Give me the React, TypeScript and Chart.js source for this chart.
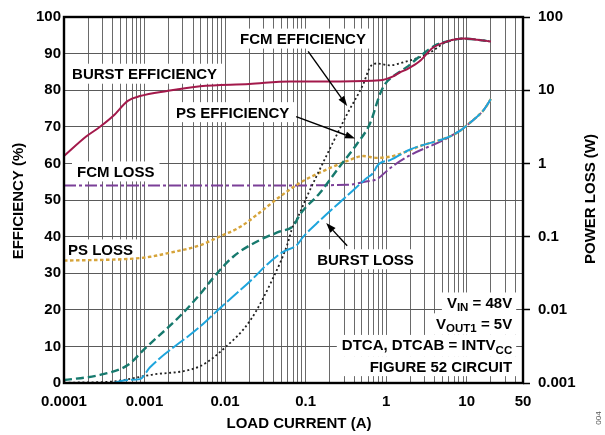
import React, { useEffect, useRef } from 'react';
import { Chart, registerables } from 'chart.js';

Chart.register(...registerables);

const FONT = '"Liberation Sans", Arial, Helvetica, sans-serif';

// ---- Axes ----
const xLabelValues = [0.0001, 0.001, 0.01, 0.1, 1, 10, 50];
const xLabelTexts = ['0.0001', '0.001', '0.01', '0.1', '1', '10', '50'];
const xDecades = [0.0001, 0.001, 0.01, 0.1, 1, 10];
const xMultipliers = [1, 2, 3, 4, 5, 6, 7, 8, 9];
const xMin = 0.0001;
const xMax = 50;

const effTickValues = [0, 10, 20, 30, 40, 50, 60, 70, 80, 90, 100];
const effTickLabels = ['0', '10', '20', '30', '40', '50', '60', '70', '80', '90', '100'];

const lossTickValues = [0.001, 0.01, 0.1, 1, 10, 100];
const lossTickLabels = ['0.001', '0.01', '0.1', '1', '10', '100'];

// ---- Series (load current in A) ----
// Burst efficiency (%)
const burstEffX = [0.0001, 0.00019, 0.00028, 0.00041, 0.00062, 0.00088, 0.0019, 0.0049, 0.02, 0.064, 0.27, 0.84, 1.22, 1.49, 1.8, 2.6, 3.8, 5.7, 9, 13.5, 20];
const burstEffY = [62, 67.4, 70, 73, 77.1, 78.4, 79.8, 81.1, 81.7, 82.4, 82.4, 82.7, 83.8, 84.9, 85.7, 87.9, 91.6, 93.3, 94.1, 93.8, 93.3];

// FCM efficiency (%)
const fcmEffX = [0.0001, 0.00037, 0.00117, 0.0049, 0.01, 0.0204, 0.0395, 0.059, 0.07, 0.078, 0.104, 0.14, 0.2, 0.33, 0.52, 0.63, 0.77, 1.1, 1.8, 2.6, 3.5, 5.7, 9, 13.5, 20];
const fcmEffY = [0.1, 0.35, 2.2, 4.6, 9.7, 17, 28.7, 37.7, 43.1, 44.8, 51, 57, 64, 73.6, 81.7, 86.3, 87.3, 86.8, 87.9, 89, 90.3, 93.3, 94.1, 93.8, 93.3];

// PS efficiency (%)
const psEffX = [0.0001, 0.00028, 0.00062, 0.00101, 0.00276, 0.0049, 0.0071, 0.0126, 0.0272, 0.048, 0.07, 0.0855, 0.151, 0.268, 0.44, 0.63, 0.84, 0.97, 1.22, 1.8, 2.6, 4.3, 5.7, 9, 13.5, 20];
const psEffY = [0.8, 2.2, 4.9, 9.4, 18.3, 24.3, 28.7, 34.5, 39.1, 41.4, 42.9, 46.1, 52, 59.3, 65.5, 70.9, 79, 81.7, 83.8, 86.3, 89.2, 92.5, 93.3, 94.1, 93.8, 93.3];

// PS loss (W)
const psLossX = [0.0001, 0.00072, 0.00117, 0.0019, 0.0049, 0.0087, 0.0153, 0.0272, 0.048, 0.0855, 0.124, 0.33, 0.52, 0.77, 1.22, 1.99, 2.6, 6.2, 8.3, 10, 12, 16, 20];
const psLossY = [0.047, 0.05, 0.053, 0.059, 0.0764, 0.101, 0.135, 0.215, 0.352, 0.545, 0.677, 1.08, 1.26, 1.19, 1.26, 1.52, 1.71, 2.34, 2.8, 3.3, 3.9, 5.25, 7.6];

// FCM loss (W)
const fcmLossX = [0.0001, 0.05, 0.33, 0.58, 0.77, 1.1, 2.0, 5.1, 6.5, 8.3, 10, 12, 16, 20];
const fcmLossY = [0.5, 0.5, 0.51, 0.57, 0.61, 0.85, 1.3, 2.07, 2.4, 2.8, 3.3, 3.9, 5.25, 7.6];

// Burst loss (W)
const burstLossX = [0.00041, 0.00062, 0.00088, 0.00117, 0.0049, 0.0087, 0.0216, 0.033, 0.0525, 0.078, 0.093, 0.151, 0.33, 0.58, 0.69, 0.77, 0.84, 1.12, 1.99, 6.2, 8.3, 10, 12, 16, 20];
const burstLossY = [0.001, 0.0011, 0.00113, 0.00164, 0.0059, 0.0106, 0.026, 0.0414, 0.0619, 0.077, 0.099, 0.167, 0.364, 0.636, 0.74, 0.92, 1.01, 1.11, 1.55, 2.34, 2.8, 3.3, 3.9, 5.25, 7.6];

const xGridValues: number[] = [];
xDecades.forEach((d) => xMultipliers.forEach((m) => { const v = d * m; if (v <= xMax * 1.0001) xGridValues.push(v); }));

function pts(xs: number[], ys: number[]) {
  return xs.map((x, i) => ({ x, y: ys[i] }));
}

function ds(label: string, xs: number[], ys: number[], axis: string, color: string, dash: number[], width: number) {
  return {
    label,
    data: pts(xs, ys),
    yAxisID: axis,
    borderColor: color,
    backgroundColor: color,
    borderDash: dash,
    borderWidth: width,
    borderCapStyle: 'butt',
    pointRadius: 0,
    fill: false,
    cubicInterpolationMode: 'monotone',
  } as any;
}

function arrow(ctx: CanvasRenderingContext2D, x1: number, y1: number, x2: number, y2: number) {
  const ang = Math.atan2(y2 - y1, x2 - x1);
  const L = 10, W = 3.5;
  const bx = x2 - L * Math.cos(ang), by = y2 - L * Math.sin(ang);
  ctx.beginPath();
  ctx.moveTo(x1, y1);
  ctx.lineTo(bx, by);
  ctx.stroke();
  ctx.beginPath();
  ctx.moveTo(x2, y2);
  ctx.lineTo(bx + W * Math.sin(ang), by - W * Math.cos(ang));
  ctx.lineTo(bx - W * Math.sin(ang), by + W * Math.cos(ang));
  ctx.closePath();
  ctx.fill();
}

const MAIN = `bold 15px ${FONT}`;
const SUB = `bold 11.5px ${FONT}`;

const annotationPlugin = {
  id: 'annotations',
  beforeDatasetsDraw(chart: any) {
    const ctx: CanvasRenderingContext2D = chart.ctx;
    const X = (v: number) => chart.scales.x.getPixelForValue(v);
    const Y = (v: number) => chart.scales.y.getPixelForValue(v);
    ctx.save();
    ctx.font = MAIN;
    ctx.textBaseline = 'alphabetic';
    // left-anchored labels: [text, x value, baseline efficiency]
    const labels: [string, number, number][] = [
      ['BURST EFFICIENCY', 0.000126, 83.0],
      ['FCM EFFICIENCY', 0.01535, 92.6],
      ['PS EFFICIENCY', 0.00246, 72.5],
      ['FCM LOSS', 0.000145, 56.3],
      ['PS LOSS', 0.000112, 35.0],
      ['BURST LOSS', 0.139, 32.3],
    ];
    labels.forEach(([t, xv, yv]) => {
      const x = X(xv), b = Y(yv);
      const w = ctx.measureText(t).width;
      ctx.fillStyle = '#fff';
      ctx.fillRect(x - 5, b - 15.5, w + 10, 20);
      ctx.fillStyle = '#000';
      ctx.textAlign = 'left';
      ctx.fillText(t, x, b);
    });

    // conditions block, right aligned
    const blockLines: [string, number][][] = [
      [['V', 0], ['IN', 1], [' = 48V', 0]],
      [['V', 0], ['OUT1', 1], [' = 5V', 0]],
      [['DTCA, DTCAB = INTV', 0], ['CC', 1]],
      [['FIGURE 52 CIRCUIT', 0]],
    ];
    const blockBase = [20.5, 14.8, 8.9, 3.1];
    const right = X(36.7);
    const widths = blockLines.map((segs) =>
      segs.reduce((s, [t, sub]) => { ctx.font = sub ? SUB : MAIN; return s + ctx.measureText(t).width; }, 0)
    );
    ctx.fillStyle = '#fff';
    blockLines.forEach((_, i) => {
      const b = Y(blockBase[i]);
      let left = right - widths[i];
      if (i === 3) left = Math.min(left, right - widths[2]);
      ctx.fillRect(left - 5, b - 15.5, right - left + 9, i === 3 ? 20 : 21.5);
    });
    blockLines.forEach((segs, i) => {
      const b = Y(blockBase[i]);
      let x = right - widths[i];
      segs.forEach(([t, sub]) => {
        ctx.font = sub ? SUB : MAIN;
        ctx.fillStyle = '#000';
        ctx.textAlign = 'left';
        ctx.fillText(t, x, sub ? b + 3.5 : b);
        x += ctx.measureText(t).width;
      });
    });
    ctx.restore();
  },
  afterDatasetsDraw(chart: any) {
    const ctx: CanvasRenderingContext2D = chart.ctx;
    const X = (v: number) => chart.scales.x.getPixelForValue(v);
    const Y = (v: number) => chart.scales.y.getPixelForValue(v);
    const a = chart.chartArea;
    ctx.save();
    ctx.strokeStyle = '#000';
    ctx.fillStyle = '#000';
    ctx.lineWidth = 1.4;
    arrow(ctx, X(0.1074), Y(90.6), X(0.328), Y(75.7));
    arrow(ctx, X(0.0762), Y(72.8), X(0.412), Y(66.8));
    arrow(ctx, X(0.328), Y(37.5), X(0.18), Y(43.7));
    // frame
    ctx.lineWidth = 2.4;
    ctx.strokeRect(a.left, a.top, a.right - a.left, a.bottom - a.top);
    ctx.restore();
  },
  afterDraw(chart: any) {
    const ctx: CanvasRenderingContext2D = chart.ctx;
    const a = chart.chartArea;
    const cy = (a.top + a.bottom) / 2;
    ctx.save();
    ctx.fillStyle = '#000';
    ctx.font = MAIN;
    ctx.textAlign = 'center';
    ctx.textBaseline = 'alphabetic';
    ctx.fillText('LOAD CURRENT (A)', 299, 428);
    ctx.save();
    ctx.translate(23, cy + 1);
    ctx.rotate(-Math.PI / 2);
    ctx.fillText('EFFICIENCY (%)', 0, 0);
    ctx.restore();
    ctx.save();
    ctx.translate(595, cy - 1);
    ctx.rotate(-Math.PI / 2);
    ctx.fillText('POWER LOSS (W)', 0, 0);
    ctx.restore();
    ctx.save();
    ctx.fillStyle = '#555';
    ctx.font = `8px ${FONT}`;
    ctx.translate(601, 418);
    ctx.rotate(-Math.PI / 2);
    ctx.fillText('004', 0, 0);
    ctx.restore();
    ctx.restore();
  },
};

export default function App() {
  const ref = useRef<HTMLCanvasElement>(null);
  useEffect(() => {
    document.body.style.margin = '0';
    const tickFont = { family: FONT, size: 15, weight: 'bold' as const };
    const chart = new Chart(ref.current as HTMLCanvasElement, {
      type: 'line',
      data: {
        datasets: [
          ds('BURST LOSS', burstLossX, burstLossY, 'y2', '#1ea5dc', [15, 3], 2),
          ds('BURST EFFICIENCY', burstEffX, burstEffY, 'y', '#a3194b', [], 2),
          ds('PS EFFICIENCY', psEffX, psEffY, 'y', '#177a6e', [8, 4], 2.4),
          ds('FCM EFFICIENCY', fcmEffX, fcmEffY, 'y', '#222222', [2, 2.6], 1.8),
          ds('PS LOSS', psLossX, psLossY, 'y2', '#d6a43a', [3.5, 2.5], 2.4),
          ds('FCM LOSS', fcmLossX, fcmLossY, 'y2', '#7b3f98', [12, 3, 3, 3], 2),
        ],
      },
      options: {
        animation: false,
        responsive: true,
        maintainAspectRatio: false,
        layout: { padding: { top: 12, left: 0, right: 0, bottom: 0 } },
        plugins: { legend: { display: false }, tooltip: { enabled: false } },
        scales: {
          x: {
            type: 'logarithmic',
            min: xMin,
            max: xMax,
            afterBuildTicks: (s: any) => { s.ticks = xGridValues.map((v) => ({ value: v })); },
            afterFit: (s: any) => { s.height = 52; },
            ticks: {
              autoSkip: false,
              maxRotation: 0,
              minRotation: 0,
              padding: 10,
              color: '#000',
              font: tickFont,
              callback: (value: any) => {
                const v = Number(value);
                const i = xLabelValues.findIndex((lv) => Math.abs(lv - v) / lv < 1e-6);
                return i >= 0 ? xLabelTexts[i] : '';
              },
            },
            grid: { color: '#6a6a6a', lineWidth: 1, drawTicks: false },
            border: { display: false },
          },
          y: {
            type: 'linear',
            position: 'left',
            min: 0,
            max: 100,
            afterBuildTicks: (s: any) => { s.ticks = effTickValues.map((v) => ({ value: v })); },
            afterFit: (s: any) => { s.width = 64; },
            ticks: {
              padding: 3,
              color: '#000',
              font: tickFont,
              callback: (value: any) => {
                const i = effTickValues.indexOf(Number(value));
                return i >= 0 ? effTickLabels[i] : '';
              },
            },
            grid: { color: '#5a5a5a', lineWidth: 1, drawTicks: false },
            border: { display: false },
          },
          y2: {
            type: 'logarithmic',
            position: 'right',
            min: 0.001,
            max: 100,
            afterBuildTicks: (s: any) => { s.ticks = lossTickValues.map((v) => ({ value: v })); },
            afterFit: (s: any) => { s.width = 82; },
            ticks: {
              padding: 8,
              color: '#000',
              font: tickFont,
              callback: (value: any) => {
                const v = Number(value);
                const i = lossTickValues.findIndex((lv) => Math.abs(lv - v) / lv < 1e-6);
                return i >= 0 ? lossTickLabels[i] : '';
              },
            },
            grid: { drawOnChartArea: false, drawTicks: true, tickLength: 7, tickColor: '#000', tickWidth: 1.5 } as any,
            border: { display: false },
          },
        },
      } as any,
      plugins: [annotationPlugin],
    });
    return () => chart.destroy();
  }, []);
  return (
    <div style={{ position: 'relative', width: 605, height: 435, background: '#fff' }}>
      <canvas ref={ref} />
    </div>
  );
}
